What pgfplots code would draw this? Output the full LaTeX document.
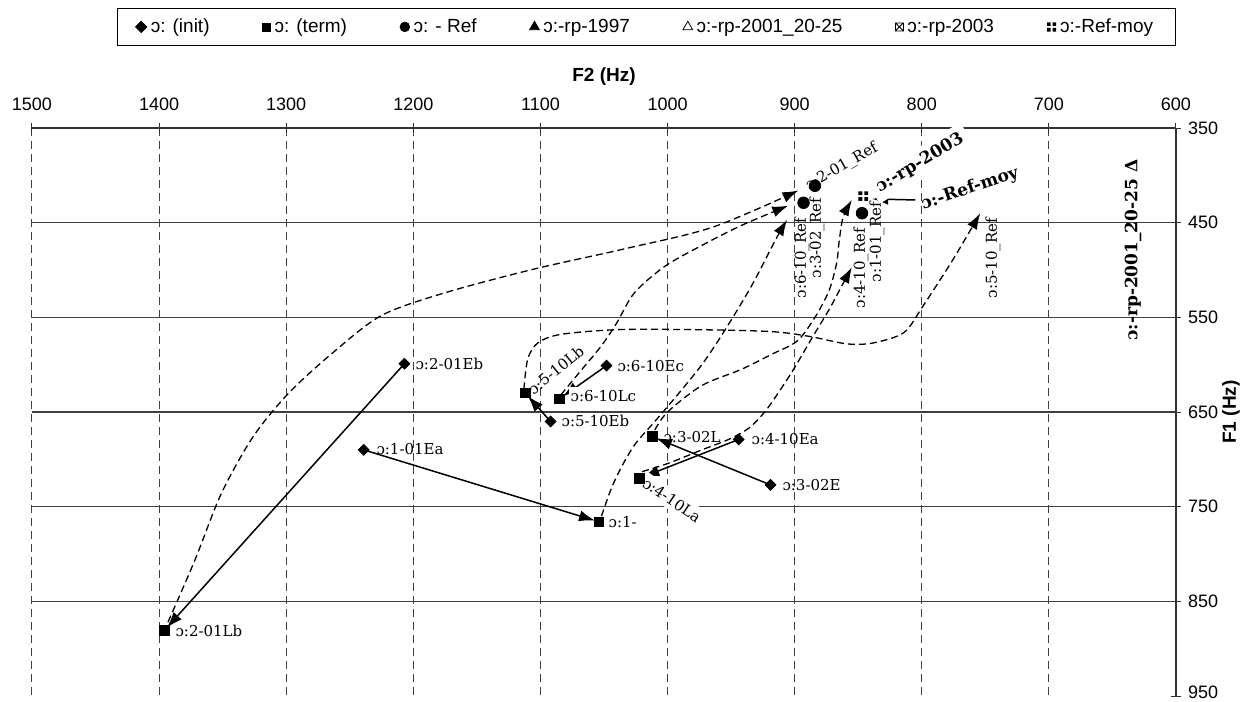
\documentclass[border=0pt]{standalone}
\usepackage{pgfplots}
\pgfplotsset{compat=1.18}
\usepackage{fontspec}
\setmainfont{DejaVu Serif}
\newfontfamily\lsans{Liberation Sans}
\usetikzlibrary{arrows.meta}

\pgfdeclareplotmark{sqx}{%
  \pgfpathrectangle{\pgfqpoint{-\pgfplotmarksize}{-\pgfplotmarksize}}{\pgfqpoint{2\pgfplotmarksize}{2\pgfplotmarksize}}%
  \pgfpathmoveto{\pgfqpoint{-\pgfplotmarksize}{-\pgfplotmarksize}}\pgfpathlineto{\pgfqpoint{\pgfplotmarksize}{\pgfplotmarksize}}%
  \pgfpathmoveto{\pgfqpoint{-\pgfplotmarksize}{\pgfplotmarksize}}\pgfpathlineto{\pgfqpoint{\pgfplotmarksize}{-\pgfplotmarksize}}%
  \pgfusepathqstroke}
\pgfdeclareplotmark{refmoy}{%
  \pgfpathrectangle{\pgfqpoint{-\pgfplotmarksize}{0.2\pgfplotmarksize}}{\pgfqpoint{0.8\pgfplotmarksize}{0.8\pgfplotmarksize}}%
  \pgfpathrectangle{\pgfqpoint{0.2\pgfplotmarksize}{0.2\pgfplotmarksize}}{\pgfqpoint{0.8\pgfplotmarksize}{0.8\pgfplotmarksize}}%
  \pgfpathrectangle{\pgfqpoint{-\pgfplotmarksize}{-\pgfplotmarksize}}{\pgfqpoint{0.8\pgfplotmarksize}{0.8\pgfplotmarksize}}%
  \pgfpathrectangle{\pgfqpoint{0.2\pgfplotmarksize}{-\pgfplotmarksize}}{\pgfqpoint{0.8\pgfplotmarksize}{0.8\pgfplotmarksize}}%
  \pgfusepathqfill}

\tikzset{
  lab/.style={font=\fontsize{7.5}{8}\selectfont, inner sep=0.6pt},
  blab/.style={font=\bfseries\fontsize{8.5}{9}\selectfont, inner sep=0.6pt},
}
\pgfplotsset{
  curve/.style={black, smooth, no markers, line width=0.65pt, dash pattern=on 3.5pt off 2pt, -{Latex[length=8pt,width=5.5pt]}, forget plot},
  sarrow/.style={black, no markers, line width=0.75pt, -{Latex[length=8pt,width=5.5pt]}, shorten <=1.5pt, shorten >=2pt, forget plot},
}

\begin{document}
\begin{tikzpicture}
\path[use as bounding box] (-16pt,-2.5pt) rectangle (604.5pt,348pt);
\begin{axis}[
  at={(0,0)}, anchor=south west,
  scale only axis, width=572pt, height=284pt,
  x dir=reverse, y dir=reverse,
  xmin=600, xmax=1500, ymin=350, ymax=950,
  axis x line*=top, axis y line*=right,
  axis line style={black!80, line width=0.6pt},
  xtick={600,700,...,1500},
  ytick={350,450,...,850},
  extra y ticks={950}, extra y tick style={grid=none, yticklabel style={yshift=2pt}},
  grid=major,
  x grid style={black!75, line width=0.5pt, dash pattern=on 4pt off 2.5pt},
  y grid style={black!75, line width=0.6pt},
  tick align=center, major tick length=5pt,
  tick style={black!80, line width=0.5pt},
  ticklabel style={font=\lsans\fontsize{9}{10}\selectfont},
  xticklabel style={yshift=2.5pt},
  /pgf/number format/assume math mode=true,
  /pgf/number format/set thousands separator={},
  clip=false,
  legend columns=7,
  legend style={at={(axis description cs:0.537,1.178)}, anchor=center, draw=black,
    font=\lsans\fontsize{9.5}{11}\selectfont, inner xsep=9pt, inner ysep=3pt,
    /tikz/every even column/.append style={column sep=24.5pt}},
  legend cell align=left,
  legend image code/.code={\draw[#1] plot coordinates {(3pt,0pt)};},
]
\addlegendimage{only marks, mark=square*, mark options={rotate=45}, mark size=2pt}
\addlegendentry{ɔ: (init)}
\addlegendimage{only marks, mark=square*, mark size=2pt}
\addlegendentry{ɔ: (term)}
\addlegendimage{only marks, mark=*, mark size=2.4pt}
\addlegendentry{ɔ: - Ref}
\addlegendimage{only marks, mark=triangle*, mark size=2.8pt}
\addlegendentry{ɔ:-rp-1997}
\addlegendimage{only marks, mark=triangle, mark size=2.8pt}
\addlegendentry{ɔ:-rp-2001\_20-25}
\addlegendimage{only marks, mark=sqx, mark size=2pt}
\addlegendentry{ɔ:-rp-2003}
\addlegendimage{only marks, mark=refmoy, mark size=2.3pt}
\addlegendentry{ɔ:-Ref-moy}

% dashed trajectories (term -> Ref)
\addplot[curve] coordinates {(1393,872) (1372,807) (1351,736) (1326,676) (1298,630) (1263,587) (1225,548) (1175,524) (1105,499) (1035,478) (965,455) (897,416)};
\addplot[curve] coordinates {(1084,632) (1068,606) (1052,580) (1040,556) (1026,524) (1002,496) (973,474) (942,453) (905,432)};
\addplot[curve] coordinates {(1052,760) (1044,730) (1035,705) (1025,683) (1010,660) (991,630) (973,600) (956,566) (934,517) (915,468) (906,447)};
\addplot[curve] coordinates {(1010,669) (1000,650) (973,622) (942,605) (918,589) (898,575) (884,550) (873,522) (867,493) (865,470) (862,445) (855,426)};
\addplot[curve] coordinates {(1020,713) (999,704) (973,690) (952,679) (936,667) (923,649) (910,624) (900,603) (886,571) (873,542) (863,517) (855,497)};
\addplot[curve] coordinates {(1113,626) (1110,594) (1102,577) (1084,568) (1039,563) (979,563) (919,565) (889,570) (859,578) (838,577) (814,566) (799,538) (775,488) (754,440)};

% solid arrows (init -> term)
\addplot[sarrow] coordinates {(1207,599) (1396,881)};
\addplot[sarrow] coordinates {(1239,690) (1054,766)};
\addplot[sarrow] coordinates {(1092,660) (1112,630)};
\addplot[sarrow] coordinates {(1048,601) (1085,636)};
\addplot[sarrow] coordinates {(919,727) (1012,676)};
\addplot[sarrow] coordinates {(944,679) (1022,720)};
\addplot[sarrow, shorten <=0pt, shorten >=0pt] coordinates {(805,426) (839,425)};

% markers
\addplot[only marks, mark=square*, mark options={rotate=45, black}, mark size=1.9pt, forget plot]
  coordinates {(1207,599) (1239,690) (1092,660) (1048,601) (944,679) (919,727)};
\addplot[only marks, mark=square*, mark options={black}, mark size=2.4pt, forget plot]
  coordinates {(1396,881) (1054,766) (1012,676) (1022,720) (1085,636) (1112,630)};
\addplot[only marks, mark=*, mark options={black}, mark size=2.9pt, forget plot]
  coordinates {(893,429) (847,440) (884,411)};
\addplot[only marks, mark=refmoy, mark options={black}, mark size=2.4pt, forget plot]
  coordinates {(846,422)};

% point labels
\node[lab, anchor=west] at (axis cs:1199.5,599.3) {ɔ:2-01Eb};
\node[lab, anchor=west] at (axis cs:1230.2,689.1) {ɔ:1-01Ea};
\node[lab, anchor=west] at (axis cs:1084.6,659.5) {ɔ:5-10Eb};
\node[lab, anchor=west] at (axis cs:1040.6,601.4) {ɔ:6-10Ec};
\node[lab, anchor=west] at (axis cs:935.1,678.5) {ɔ:4-10Ea};
\node[lab, anchor=west] at (axis cs:910.8,727.1) {ɔ:3-02E};
\node[lab, anchor=west] at (axis cs:1388.3,881.3) {ɔ:2-01Lb};
\node[lab, anchor=west] at (axis cs:1047.6,766.2) {ɔ:1-};
\node[lab, anchor=west] at (axis cs:1004.4,676.4) {ɔ:3-02L};
\node[lab, anchor=west, fill=white, inner ysep=1.5pt] at (axis cs:1077.5,633.1) {ɔ:6-10Lc};
\node[lab, rotate=39] at (axis cs:1087.8,605.6) {ɔ:5-10Lb};
\node[lab, rotate=-34, fill=white, inner sep=2pt] at (axis cs:996.5,743) {ɔ:4-10La};
\node[lab, rotate=90] at (axis cs:894.2,487.3) {ɔ:6-10\_Ref};
\node[lab, rotate=90] at (axis cs:882.4,466.2) {ɔ:3-02\_Ref};
\node[lab, rotate=90] at (axis cs:847.8,497.9) {ɔ:4-10\_Ref};
\node[lab, rotate=90] at (axis cs:835.2,470.4) {ɔ:1-01\_Ref};
\node[lab, rotate=90] at (axis cs:744,487.3) {ɔ:5-10\_Ref};
\node[lab, rotate=30] at (axis cs:862.8,391.2) {ɔ:2-01\_Ref};
\node[blab, rotate=31, fill=white, inner sep=3pt] at (axis cs:801.4,387) {ɔ:-rp-2003};
\node[blab, rotate=18.6] at (axis cs:762.1,414.4) {ɔ:-Ref-moy};
\node[blab, rotate=90] at (axis cs:633.8,478.9) {ɔ:-rp-2001\_20-25 Δ};

% axis titles
\node[font=\lsans\bfseries\fontsize{9.5}{11}\selectfont, yshift=25.5pt] at (axis description cs:0.5,1) {F2 (Hz)};
\node[font=\lsans\bfseries\fontsize{9.5}{11}\selectfont, rotate=90, yshift=-27.5pt] at (axis description cs:1,0.5) {F1 (Hz)};
\end{axis}
\end{tikzpicture}
\end{document}
